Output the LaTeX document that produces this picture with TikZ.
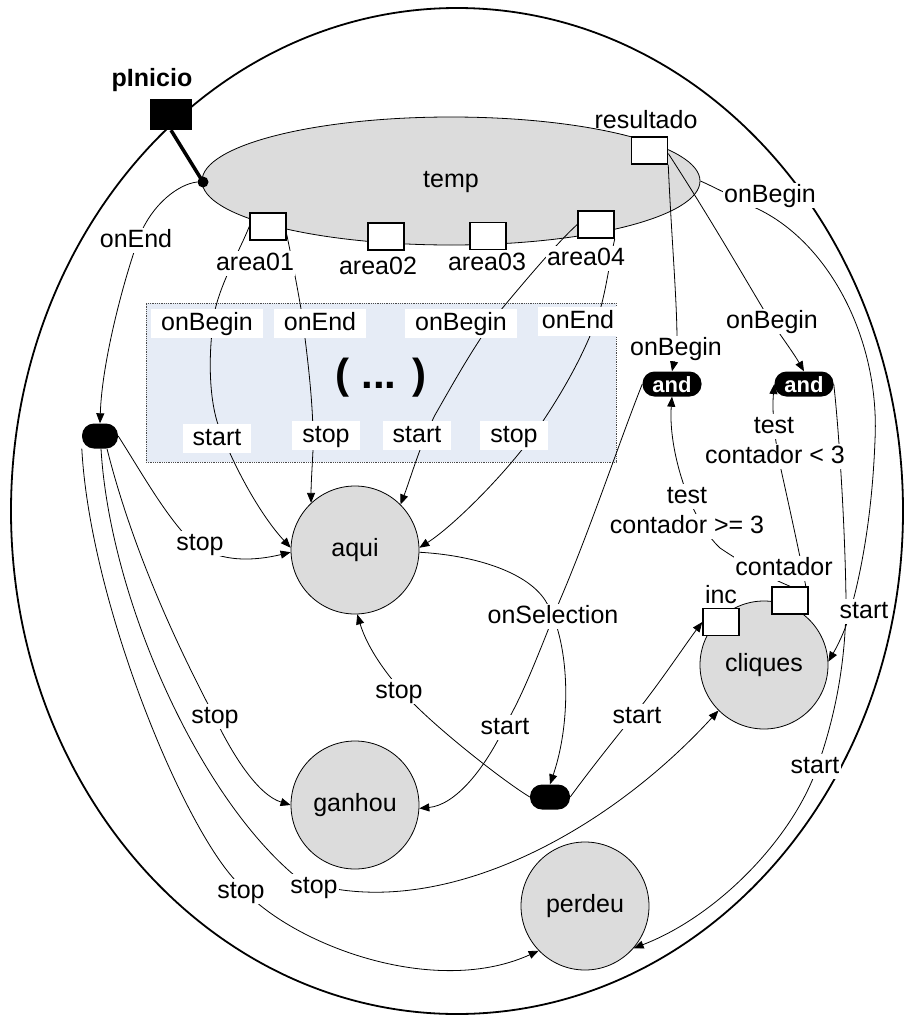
\documentclass[tikz,border=0pt]{standalone}
\usepackage{fontspec}
\setmainfont{Liberation Sans}
\usetikzlibrary{arrows.meta,shapes.geometric}
\definecolor{nodegray}{RGB}{220,220,220}
\definecolor{boxblue}{RGB}{230,236,246}
\pgfdeclarelayer{bg}
\pgfdeclarelayer{edges}
\pgfsetlayers{bg,edges,main}
\begin{document}
\begin{tikzpicture}[x=1pt,y=-1pt,
  every node/.style={font=\fontsize{25}{30}\selectfont},
  lbl/.style={fill=white, inner xsep=1.5pt, inner ysep=1pt, text height=18pt, text depth=5pt, anchor=base},
  plainlbl/.style={inner xsep=1.5pt, inner ysep=1pt, text height=18pt, text depth=5pt, anchor=base},
  boxlbl/.style={lbl, inner xsep=10pt, inner ysep=3pt},
  state/.style={circle, draw, line width=0.8pt, fill=nodegray, minimum size=128pt, inner sep=0pt, text height=18pt, text depth=5pt},
  port/.style={draw, line width=1.5pt, fill=white, minimum width=36pt, minimum height=27pt, inner sep=0pt},
  andnode/.style={fill=black, rounded corners=12pt, minimum width=59pt, minimum height=25pt, inner sep=0pt, text=white, font=\fontsize{22}{26}\selectfont\bfseries, text height=16pt, text depth=0pt},
  blob/.style={fill=black, rounded corners=12pt, minimum height=25pt, inner sep=0pt},
  conn/.style={line width=0.8pt},
  arr/.style={conn, -{Triangle[length=10pt,width=8pt]}}
]
\useasboundingbox (0,0) rectangle (904,1017);

\begin{pgfonlayer}{bg}
  \draw[line width=1.8pt] (457,511) ellipse [x radius=446pt, y radius=503pt];
  \node[ellipse, draw, line width=0.8pt, fill=nodegray, minimum width=498pt, minimum height=128pt, inner sep=0pt, text height=18pt, text depth=5pt] (temp) at (451,181) {temp};
  \node[draw=gray!60!black, densely dotted, line width=0.8pt, fill=boxblue, minimum width=470pt, minimum height=159pt, inner sep=0pt] (etcbox) at (381,382.5) {};
\end{pgfonlayer}

% main nodes
\node[fill=black, minimum width=42pt, minimum height=31pt, inner sep=0pt] (pinicio) at (171,114.5) {};
\node[anchor=base, font=\fontsize{25}{30}\selectfont\bfseries] (pinlbl) at (152,86) {pInicio};
\node[circle, fill=black, minimum size=11pt, inner sep=0pt] (dot) at (203,182) {};
\node[font=\fontsize{42}{48}\selectfont\bfseries] (dots) at (381,378) {( ... )};

\node[port] (a01) at (268,226.5) {};
\node[port] (a02) at (386,236.5) {};
\node[port] (a03) at (488,236) {};
\node[port] (a04) at (596,224.5) {};
\node[port] (res) at (649.5,150.5) {};
\node[lbl] (la01) at (255,270) {area01};
\node[lbl] (la02) at (378,274) {area02};
\node[lbl] (la03) at (487,270) {area03};
\node[lbl] (la04) at (586,265) {area04};
\node[plainlbl] (lres) at (646,128) {resultado};

\node[state] (aqui) at (355,550) {aqui};
\node[state] (ganhou) at (355,805) {ganhou};
\node[state] (perdeu) at (585,906) {perdeu};
\node[state] (cliques) at (764,665) {cliques};
\node[port] (inc) at (721,622) {};
\node[port] (cont) at (790,600.5) {};
\node[plainlbl] (linc) at (721,603) {inc};
\node[lbl] (lcont) at (784,575) {contador};

\node[blob, minimum width=36pt] (lblob) at (100,436) {};
\node[blob, minimum width=40pt] (bblob) at (550,797) {};
\node[andnode] (andl) at (672,384) {and};
\node[andnode] (andr) at (804,384) {and};

% edge labels
\node[lbl] (lOnEnd0) at (136,247) {onEnd};
\node[boxlbl] (lOB1) at (207,330) {onBegin};
\node[boxlbl] (lOE1) at (320,330) {onEnd};
\node[boxlbl] (lOB2) at (461,330) {onBegin};
\node[boxlbl, inner xsep=4pt] (lOE2) at (578,328) {onEnd};
\node[boxlbl] (lSt1) at (217,445) {start};
\node[boxlbl] (lSp1) at (326,442) {stop};
\node[boxlbl] (lSt2) at (417,442) {start};
\node[boxlbl] (lSp2) at (514,442) {stop};
\node[lbl] (lStopA) at (200,550) {stop};
\node[lbl] (lStopG) at (215,723) {stop};
\node[lbl] (lStopP) at (241,898) {stop};
\node[lbl] (lStopC) at (314,893) {stop};
\node[lbl] (lStopB) at (399,698) {stop};
\node[lbl] (lSel) at (553,623) {onSelection};
\node[lbl] (lStG) at (505,734) {start};
\node[lbl] (lStI) at (637,723) {start};
\node[lbl] (lStC) at (864,618) {start};
\node[lbl] (lStP) at (815,773) {start};
\node[lbl] (lOBl) at (676,355) {onBegin};
\node[lbl] (lOBr) at (772,328) {onBegin};
\node[lbl] (lOBt) at (770,202) {onBegin};
\node[lbl] (lGE1) at (687,503) {test};
\node[lbl] (lGE2) at (687,533) {contador >= 3};
\node[lbl] (lLT1) at (774,433) {test};
\node[lbl] (lLT2) at (775,463) {contador < 3};

\begin{pgfonlayer}{edges}
  \draw[line width=3.5pt] (pinicio.south) -- (dot.center);
  % temp onEnd -> left blob
  \draw[arr] (dot.west) .. controls (178,184) and (152,205) .. (140,235) .. controls (125,275) and (102,360) .. (lblob.north);
  % left blob -> aqui
  \draw[arr] (lblob.east) .. controls (140,470) and (165,515) .. (190,540) .. controls (215,562) and (250,562) .. (aqui.182);
  % left blob -> ganhou
  \draw[arr] ([xshift=7pt]lblob.south) .. controls (135,560) and (185,660) .. (212,712) .. controls (232,755) and (258,795) .. (ganhou.180);
  % left blob -> cliques
  \draw[arr] ([xshift=1pt]lblob.south) .. controls (110,600) and (200,800) .. (300,880) .. controls (430,925) and (600,840) .. (cliques.225);
  % left blob -> perdeu
  \draw[arr] (lblob.south west) .. controls (90,600) and (180,820) .. (235,880) .. controls (280,940) and (430,1000) .. (perdeu.224);
  % area01 -> aqui (onBegin / start)
  \draw[arr] (a01.west) .. controls (240,250) and (222,280) .. (215,310) .. controls (208,350) and (208,400) .. (220,430) .. controls (240,480) and (265,520) .. (aqui.178);
  % area01 -> aqui (onEnd / stop)
  \draw[arr] ([yshift=-8pt]a01.east) .. controls (292,260) and (298,290) .. (302,315) .. controls (308,360) and (314,410) .. (313,450) .. controls (312,470) and (311,485) .. (aqui.133);
  % area04 -> aqui (onBegin / start)
  \draw[arr] (a04.west) .. controls (560,240) and (530,275) .. (505,305) .. controls (480,335) and (455,380) .. (435,415) .. controls (420,445) and (410,480) .. (aqui.45);
  % area04 -> aqui (onEnd / stop)
  \draw[arr] (a04.south east) .. controls (610,260) and (606,290) .. (600,310) .. controls (588,345) and (570,380) .. (545,418) .. controls (515,465) and (455,525) .. (aqui.2);
  % aqui onSelection -> bottom blob
  \draw[arr] (aqui.-2) .. controls (470,555) and (525,570) .. (545,600) .. controls (570,640) and (572,720) .. (bblob.north);
  % bottom blob -> aqui stop
  \draw[arr] (bblob.west) .. controls (505,782) and (445,735) .. (415,705) .. controls (390,680) and (368,650) .. (aqui.-88);
  % bottom blob -> inc start
  \draw[arr] (bblob.east) .. controls (590,770) and (610,745) .. (630,720) .. controls (655,690) and (685,645) .. (inc.west);
  % and left -> ganhou start
  \draw[arr] (andl.west) .. controls (620,440) and (590,530) .. (560,600) .. controls (540,650) and (525,690) .. (508,720) .. controls (485,770) and (455,805) .. (ganhou.-3);
  % resultado -> and left
  \draw[arr] (res.south east) .. controls (671,230) and (677,300) .. (677,340) .. controls (677,355) and (674,362) .. (andl.north);
  % resultado -> and right
  \draw[arr] ([yshift=-3pt]res.east) .. controls (705,210) and (740,270) .. (765,312) .. controls (780,335) and (793,352) .. (andr.north);
  % temp onBegin -> cliques start
  \draw[arr] (temp.east) .. controls (712,186) and (735,198) .. (760,210) .. controls (830,245) and (880,340) .. (875,440) .. controls (872,520) and (860,575) .. (852,605) .. controls (848,625) and (838,645) .. (cliques.3);
  % and right -> perdeu start
  \draw[arr] (andr.east) .. controls (838,420) and (845,520) .. (846,600) .. controls (846,670) and (832,725) .. (818,765) .. controls (795,835) and (720,915) .. (perdeu.-41);
  % contador -> and left (test >= 3)
  \draw[arr] (cont.north) .. controls (770,578) and (745,565) .. (720,548) .. controls (690,520) and (668,450) .. (andl.south);
  % contador -> and right (test < 3)
  \draw[arr] ([xshift=-3pt]cont.north east) .. controls (802,565) and (790,510) .. (780,465) .. controls (774,435) and (772,410) .. (andr.west);
\end{pgfonlayer}
\end{tikzpicture}
\end{document}
